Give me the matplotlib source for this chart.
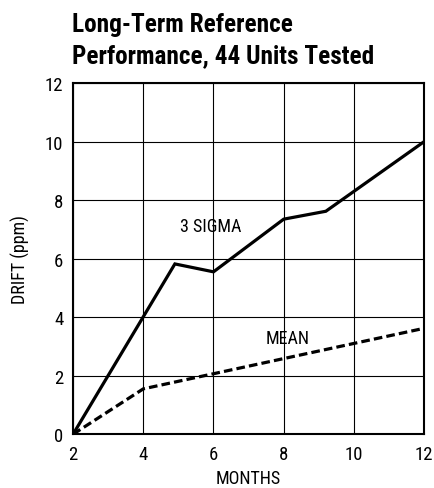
import matplotlib.pyplot as plt

months_3sigma = [2, 4.9, 6, 8, 9.2, 12]
drift_3sigma = [0, 5.82, 5.55, 7.35, 7.62, 10]

months_mean = [2, 4, 12]
drift_mean = [0, 1.55, 3.62]

x_ticks = [2, 4, 6, 8, 10, 12]
y_ticks = [0, 2, 4, 6, 8, 10, 12]

plt.rcParams["font.family"] = ["Roboto Condensed", "DejaVu Sans"]

fig = plt.figure(figsize=(4.35, 4.89), dpi=100)
ax = fig.add_axes([0.168, 0.110, 0.807, 0.718])

ax.plot(months_3sigma, drift_3sigma, color="black", lw=2.3, solid_joinstyle="miter")
ax.plot(months_mean, drift_mean, color="black", lw=2.3, linestyle=(0, (2.7, 1.3)))

ax.text(5.92, 7.1, "3 SIGMA", ha="center", va="center", fontsize=13)
ax.text(8.1, 3.3, "MEAN", ha="center", va="center", fontsize=13)

ax.set_xlim(2, 12)
ax.set_ylim(0, 12)
ax.set_xticks(x_ticks)
ax.set_yticks(y_ticks)
ax.grid(True, color="black", lw=0.8)
ax.tick_params(length=0, labelsize=13.5)
ax.tick_params(axis="x", pad=8)
ax.tick_params(axis="y", pad=7)
for s in ax.spines.values():
    s.set_linewidth(1.5)

ax.set_xlabel("MONTHS", fontsize=13, labelpad=4)
ax.set_ylabel("DRIFT (ppm)", fontsize=13, labelpad=11)

fig.text(0.166, 1 - 32 / 489, "Long-Term Reference", ha="left", va="baseline",
         fontsize=18.2, fontweight="bold")
fig.text(0.166, 1 - 63 / 489, "Performance, 44 Units Tested", ha="left", va="baseline",
         fontsize=18.2, fontweight="bold")

fig.savefig("out.png", dpi=100)
